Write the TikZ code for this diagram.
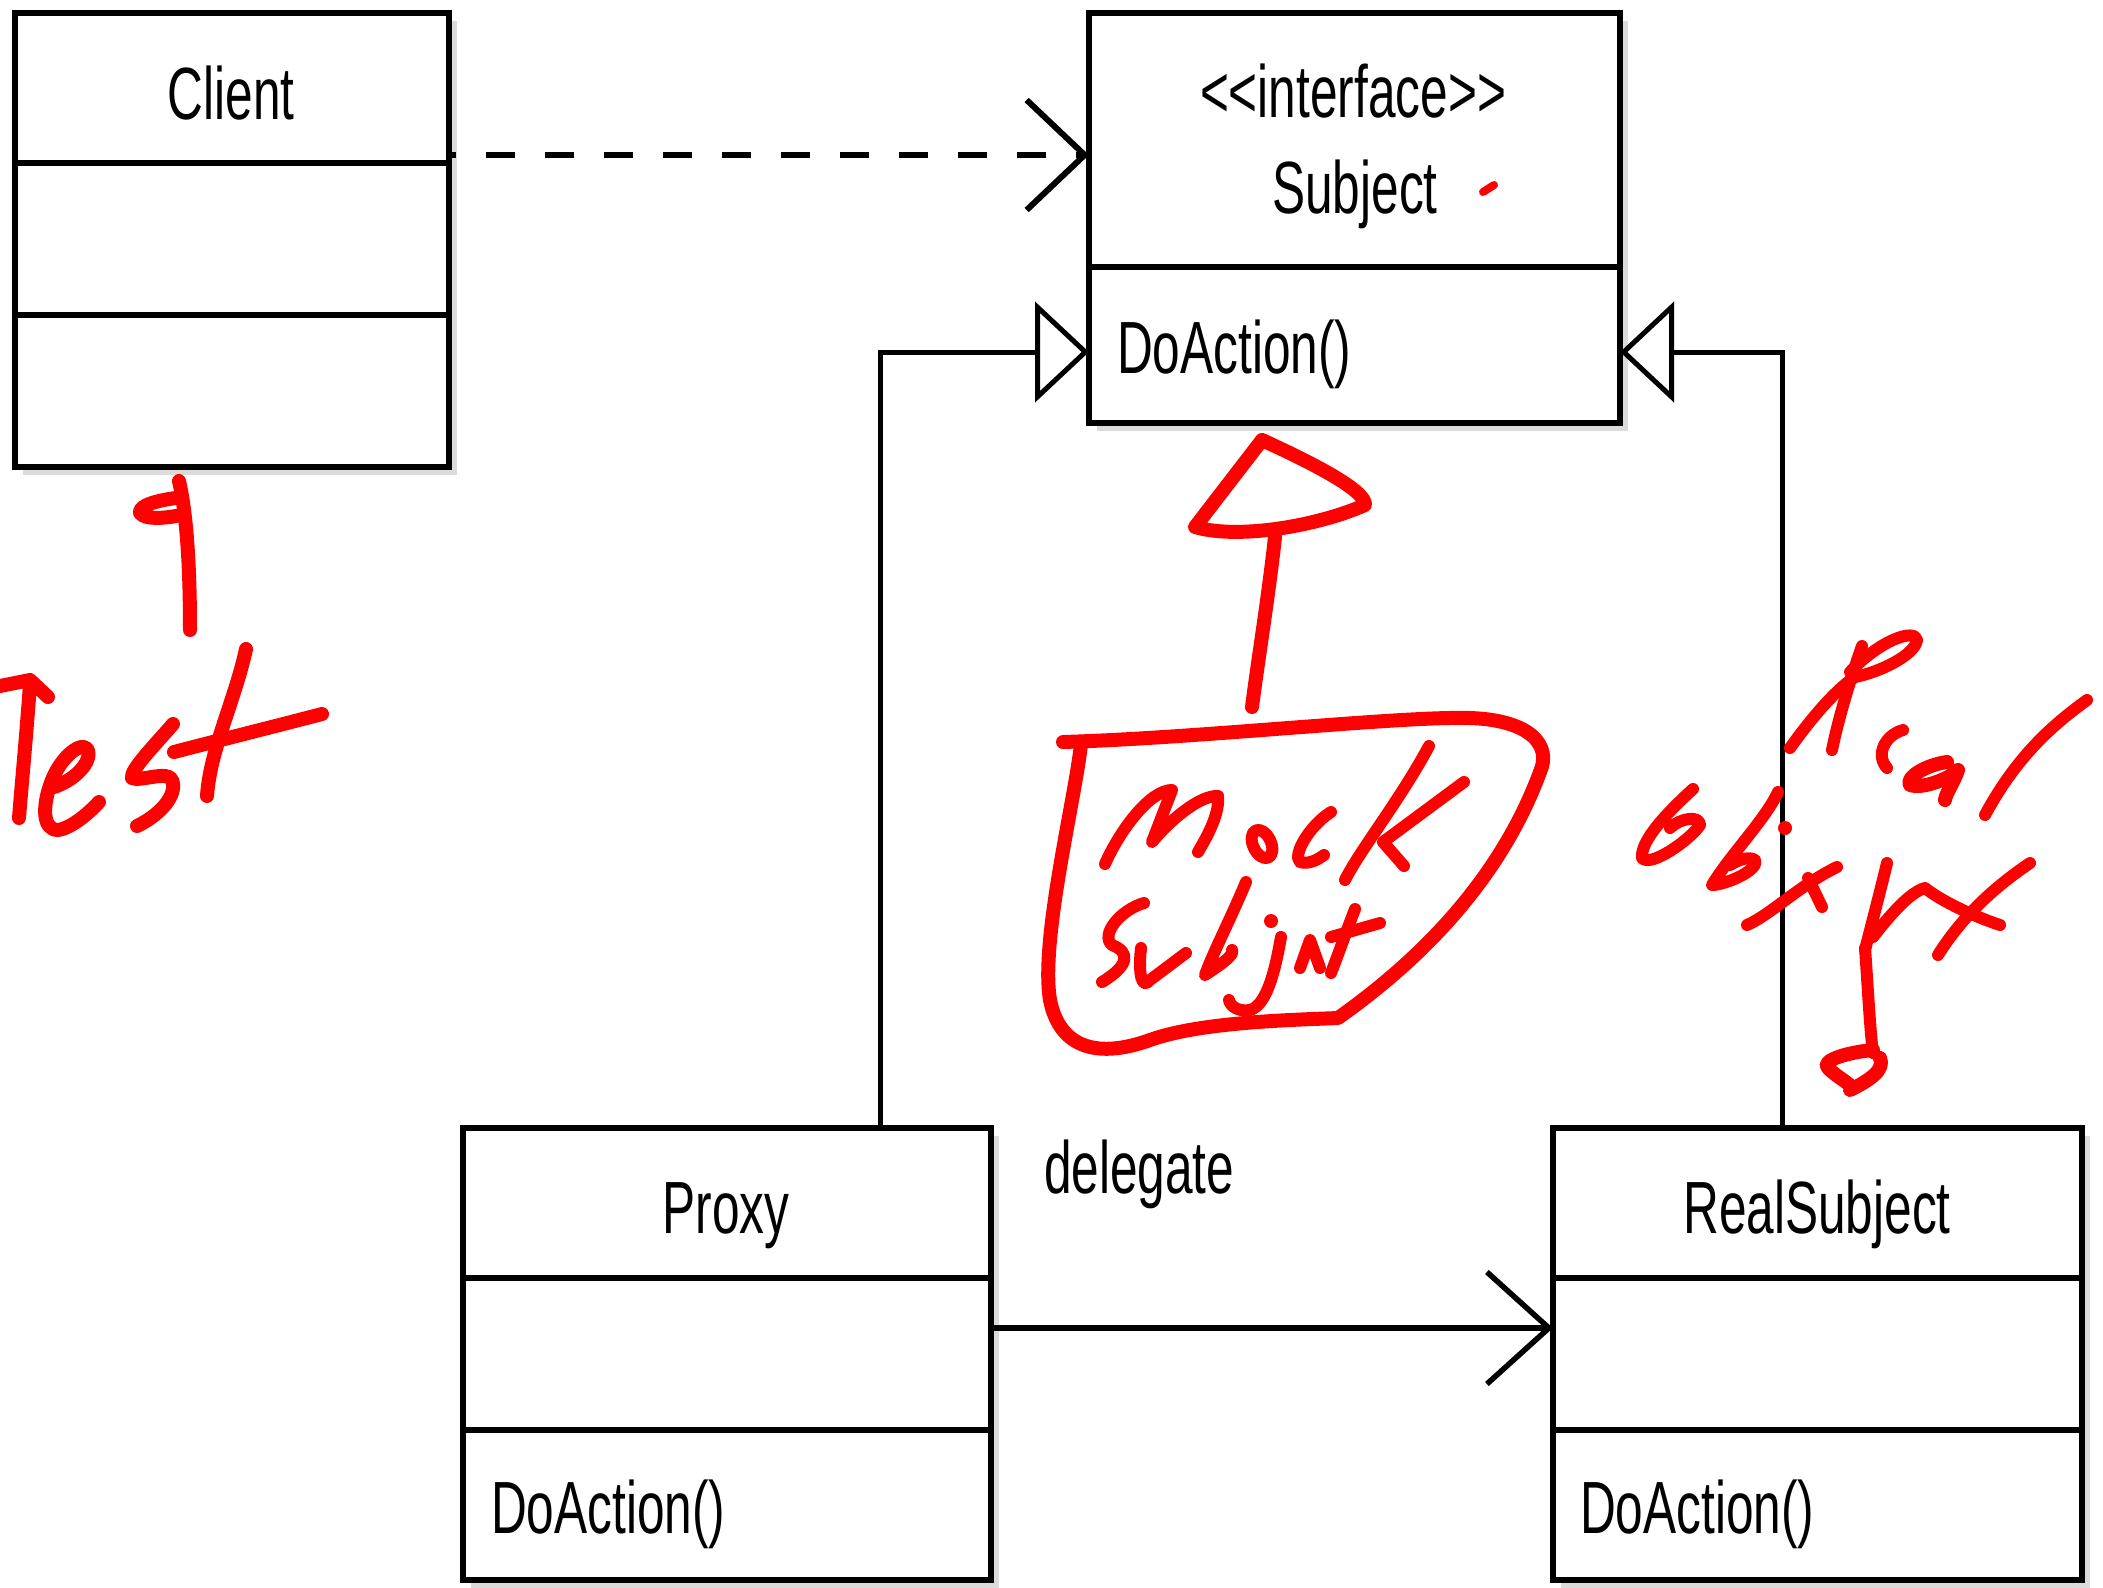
\documentclass[tikz,border=0pt]{standalone}
\usepackage{fontspec}
\newfontfamily\umlfont{Liberation Sans}[FakeStretch=0.67]
\usetikzlibrary{arrows.meta}

\begin{document}
\begin{tikzpicture}[x=1pt, y=-1pt,
  umlbox/.style={draw=black, fill=white, line width=6pt, rectangle,
    inner sep=0pt, outer sep=0pt},
  boxshadow/.style={fill=black!14},
  divider/.style={line width=6pt},
  lbl/.style={inner sep=0pt, outer sep=0pt, font=\umlfont\fontsize{74}{80}\selectfont},
  dep/.style={line width=6pt, dash pattern=on 29pt off 30pt, dash phase=22pt,
    -{Straight Barb[length=58pt, width=110pt, line join=miter, line cap=butt]}},
  assoc/.style={line width=5.5pt,
    -{Straight Barb[length=62pt, width=112pt, line join=miter, line cap=butt]}},
  gen/.style={line width=5pt,
    -{Triangle[open, length=54pt, width=100pt, line join=miter]}},
  ink/.style={draw=red, line width=14pt, line cap=round, line join=round},
  thinink/.style={draw=red, line width=12pt, line cap=round, line join=round}
]
\useasboundingbox (0,0) rectangle (2103,1587);

% ---------- class boxes ----------
\begin{scope}
  \fill[boxshadow] (23,21) rectangle (457,475);
  \fill[boxshadow] (1097,21) rectangle (1628,431);
  \fill[boxshadow] (471,1136) rectangle (999,1590);
  \fill[boxshadow] (1561,1136) rectangle (2090,1590);
\end{scope}

\node[umlbox, minimum width=434pt, minimum height=454pt] (client) at (232,240) {};
\node[umlbox, minimum width=531pt, minimum height=410pt] (subject) at (1354.5,218) {};
\node[umlbox, minimum width=528pt, minimum height=452pt] (proxy) at (727,1354) {};
\node[umlbox, minimum width=529pt, minimum height=452pt] (realsubject) at (1817.5,1354) {};

% compartments
\draw[divider] (client.west |- 0,163) -- (client.east |- 0,163);
\draw[divider] (client.west |- 0,315) -- (client.east |- 0,315);
\draw[divider] (subject.west |- 0,267) -- (subject.east |- 0,267);
\draw[divider] (proxy.west |- 0,1278) -- (proxy.east |- 0,1278);
\draw[divider] (proxy.west |- 0,1430) -- (proxy.east |- 0,1430);
\draw[divider] (realsubject.west |- 0,1278) -- (realsubject.east |- 0,1278);
\draw[divider] (realsubject.west |- 0,1430) -- (realsubject.east |- 0,1430);

% texts
\node[lbl, anchor=base] (clientname) at (231,119) {Client};
\node[lbl, anchor=base] (stereo) at (1353,117) {<{}<interface>{}>};
\node[lbl, anchor=base] (subjectname) at (1355,213) {Subject};
\node[lbl, anchor=base west] (subjectop) at (1117,373) {DoAction()};
\node[lbl, anchor=base] (proxyname) at (726,1233) {Proxy};
\node[lbl, anchor=base west] (proxyop) at (491,1533) {DoAction()};
\node[lbl, anchor=base] (realname) at (1817,1233) {RealSubject};
\node[lbl, anchor=base west] (realop) at (1580,1533) {DoAction()};
\node[lbl, anchor=base west] (delegatelbl) at (1044,1193) {delegate};

% ---------- connectors ----------
\draw[dep] (client.east |- 0,155) -- (subject.west |- 0,155);
\coordinate (proxyup) at (proxy.north -| 880,0);
\coordinate (realup) at (realsubject.north -| 1782,0);
\draw[gen] (proxyup) |- (subject.west |- 0,352);
\draw[gen] (realup) |- (subject.east |- 0,352);
\draw[assoc] (proxy.east |- 0,1328) -- (realsubject.west |- 0,1328);

% ---------- red pen notes ----------
% "Test" with its pointer to the client
\draw[ink] (179,481) .. controls (188,520) and (190,580) .. (190,630);
\draw[ink] (176,498) .. controls (160,500) and (138,505) .. (140,513)
           .. controls (145,520) and (165,518) .. (176,516);
\draw[ink] (0,686) -- (30,680) -- (48,697);
\draw[ink] (30,684) .. controls (26,740) and (22,780) .. (19,818);
\draw[ink] (54,787) .. controls (75,780) and (92,762) .. (88,750)
           .. controls (83,740) and (62,755) .. (52,780)
           .. controls (42,805) and (42,830) .. (58,830)
           .. controls (72,828) and (90,812) .. (99,802);
\draw[ink] (173,724) .. controls (155,745) and (130,770) .. (132,778)
           .. controls (140,782) and (168,770) .. (172,780)
           .. controls (178,795) and (160,815) .. (137,826);
\draw[ink] (246,649) .. controls (235,700) and (210,750) .. (207,796);
\draw[ink] (174,752) .. controls (220,740) and (280,725) .. (322,714);

% small tick in the interface box
\draw[thinink, line width=8pt] (1483,192) -- (1494,185);

% mock subject realising the interface
\draw[ink] (1262,440) -- (1195,527) .. controls (1240,540) and (1320,525) .. (1365,505)
           .. controls (1366,490) and (1310,462) .. (1262,440);
\draw[ink] (1275,537) .. controls (1268,600) and (1258,660) .. (1252,707);
\draw[ink] (1063,742) .. controls (1200,738) and (1400,716) .. (1470,718)
           .. controls (1530,720) and (1552,745) .. (1540,772)
           .. controls (1500,880) and (1420,960) .. (1338,1018)
           .. controls (1290,1020) and (1200,1022) .. (1150,1040)
           .. controls (1100,1058) and (1060,1050) .. (1050,1000)
           .. controls (1040,940) and (1075,800) .. (1081,744);
\draw[thinink] (1105,864) .. controls (1120,830) and (1150,790) .. (1172,790) -- (1152,842)
           .. controls (1170,820) and (1200,795) .. (1218,796)
           .. controls (1220,815) and (1205,840) .. (1198,852);
\draw[thinink] (1262,844) ellipse [x radius=9pt, y radius=15pt, rotate=25];
\draw[thinink] (1331,812) .. controls (1310,825) and (1292,855) .. (1300,862)
           .. controls (1310,865) and (1320,858) .. (1324,855);
\draw[thinink] (1429,746) .. controls (1400,800) and (1360,850) .. (1345,880);
\draw[thinink] (1464,782) -- (1383,842) -- (1404,866);
\draw[thinink] (1144,903) .. controls (1120,910) and (1100,935) .. (1112,945)
           .. controls (1130,952) and (1130,965) .. (1102,982);
\draw[thinink] (1141,948) .. controls (1138,975) and (1142,990) .. (1150,980) -- (1186,953);
\draw[thinink] (1246,882) .. controls (1230,920) and (1212,955) .. (1205,975)
           .. controls (1220,965) and (1235,955) .. (1232,950);
\fill[red] (1271,921) circle[radius=7pt];
\draw[thinink] (1281,937) .. controls (1276,965) and (1268,1005) .. (1250,1010)
           .. controls (1238,1012) and (1230,1006) .. (1229,1000);
\draw[thinink] (1300,968) -- (1310,940) -- (1320,968);
\draw[thinink] (1355,909) .. controls (1345,935) and (1338,955) .. (1331,973);
\draw[thinink] (1331,937) -- (1380,923);

% "Real Object" pointing at the real subject
\draw[thinink] (1790,748) .. controls (1810,720) and (1835,690) .. (1855,677)
           .. controls (1880,672) and (1915,655) .. (1917,640)
           .. controls (1915,628) and (1880,640) .. (1850,672);
\draw[thinink] (1862,646) .. controls (1850,680) and (1838,720) .. (1832,750);
\draw[thinink] (1903,730) .. controls (1885,735) and (1875,755) .. (1887,768);
\draw[ink] (1947,762) .. controls (1925,765) and (1905,778) .. (1910,785)
           .. controls (1925,790) and (1955,775) .. (1958,770)
           .. controls (1955,780) and (1945,795) .. (1945,800);
\draw[thinink] (2087,700) .. controls (2060,720) and (2020,750) .. (1985,815);
\draw[thinink] (1693,789) .. controls (1670,810) and (1640,840) .. (1642,858)
           .. controls (1650,868) and (1690,840) .. (1700,825)
           .. controls (1700,815) and (1680,818) .. (1670,828);
\draw[thinink] (1778,792) .. controls (1765,820) and (1730,855) .. (1712,885)
           .. controls (1725,885) and (1760,870) .. (1755,860)
           .. controls (1748,855) and (1735,862) .. (1730,865);
\fill[red] (1785,828) circle[radius=7pt];
\draw[thinink] (1747,925) .. controls (1770,915) and (1800,885) .. (1837,867);
\draw[thinink] (1808,878) -- (1822,907);
\draw[thinink] (1887,863) .. controls (1878,900) and (1870,930) .. (1865,950);
\draw[thinink] (1873,937) .. controls (1890,915) and (1910,892) .. (1925,888)
           .. controls (1940,900) and (1970,915) .. (2000,925);
\draw[thinink] (2030,863) .. controls (1990,890) and (1960,920) .. (1938,955);
\draw[thinink] (1865,948) .. controls (1868,990) and (1870,1030) .. (1873,1053);
\draw[ink] (1873,1050) .. controls (1850,1052) and (1820,1060) .. (1828,1068)
           .. controls (1840,1080) and (1855,1085) .. (1850,1090)
           .. controls (1870,1080) and (1885,1070) .. (1880,1058);
\end{tikzpicture}
\end{document}
